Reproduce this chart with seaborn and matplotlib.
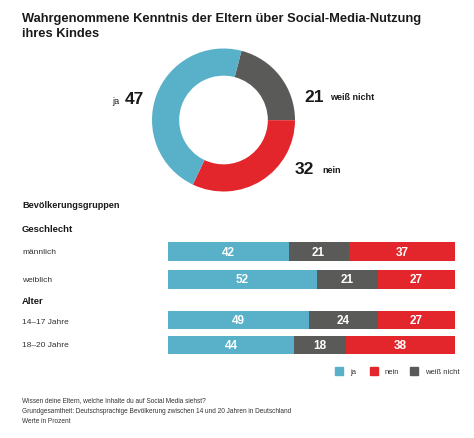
import pandas as pd
import numpy as np
import matplotlib
matplotlib.use("Agg")
import matplotlib.pyplot as plt
import seaborn as sns

sns.set_style("white")
plt.rcParams['font.family'] = ['Liberation Sans', 'DejaVu Sans']

# Data
answers = ['ja', 'weiß nicht', 'nein']
total_values = [47, 21, 32]

gender_groups = ['männlich', 'weiblich']
gender_ja = [42, 52]
gender_weiss = [21, 21]
gender_nein = [37, 27]

age_groups = ['14–17 Jahre', '18–20 Jahre']
age_ja = [49, 44]
age_weiss = [24, 18]
age_nein = [27, 38]

title = 'Wahrgenommene Kenntnis der Eltern über Social-Media-Nutzung\nihres Kindes'
footnotes = ['Wissen deine Eltern, welche Inhalte du auf Social Media siehst?',
             'Grundgesamtheit: Deutschsprachige Bevölkerung zwischen 14 und 20 Jahren in Deutschland',
             'Werte in Prozent']

colors = {'ja': '#58b0c9', 'weiß nicht': '#5a5a58', 'nein': '#e3262b'}
text_color = '#1a1a1a'

W, H = 474, 439
fig = plt.figure(figsize=(W / 100, H / 100), dpi=100)


def fx(x):
    return x / W


def fy(y):
    return 1 - y / H


def add_ax(left, top, right, bottom):
    return fig.add_axes([fx(left), fy(bottom), fx(right) - fx(left), (bottom - top) / H])


# Title
fig.text(fx(22), fy(13), title, fontsize=9.3, fontweight='bold', va='top', ha='left',
         color=text_color, linespacing=1.3)

# Donut
cx, cy, r = 223.5, 121, 71.5
ax_pie = add_ax(cx - r, cy - r, cx + r, cy + r)
pie_order = ['weiß nicht', 'nein', 'ja']
pie_vals = [total_values[answers.index(a)] for a in pie_order]
ax_pie.pie(pie_vals, colors=[colors[a] for a in pie_order], startangle=75.4,
           counterclock=False, radius=1, wedgeprops=dict(width=0.38, linewidth=0))
ax_pie.set_xlim(-1, 1)
ax_pie.set_ylim(-1, 1)
ax_pie.set_axis_off()

fig.text(fx(144), fy(100), str(total_values[0]), fontsize=12.5, fontweight='bold',
         ha='right', va='center', color=text_color)
fig.text(fx(112), fy(101), 'ja', fontsize=6.5, ha='left', va='center', color=text_color)
fig.text(fx(304), fy(97), str(total_values[1]), fontsize=12.5, fontweight='bold',
         ha='left', va='center', color=text_color)
fig.text(fx(330), fy(98), 'weiß nicht', fontsize=6.5, fontweight='bold', ha='left',
         va='center', color=text_color)
fig.text(fx(295), fy(170), str(total_values[2]), fontsize=12.5, fontweight='bold',
         ha='left', va='center', color=text_color)
fig.text(fx(322), fy(171), 'nein', fontsize=6.5, fontweight='bold', ha='left',
         va='center', color=text_color)

# Headings
fig.text(fx(22), fy(206), 'Bevölkerungsgruppen', fontsize=6.6, fontweight='bold',
         ha='left', va='center', color=text_color)
fig.text(fx(22), fy(230), 'Geschlecht', fontsize=6.8, fontweight='bold',
         ha='left', va='center', color=text_color)
fig.text(fx(22), fy(302), 'Alter', fontsize=6.8, fontweight='bold',
         ha='left', va='center', color=text_color)


def stacked_bars(ax, groups, ja, weiss, nein, bar_h):
    df = pd.DataFrame({'group': groups, 'ja': ja, 'weiß nicht': weiss, 'nein': nein})
    df['c_ja'] = df['ja']
    df['c_weiss'] = df['ja'] + df['weiß nicht']
    df['c_nein'] = df['c_weiss'] + df['nein']
    for col, key in [('c_nein', 'nein'), ('c_weiss', 'weiß nicht'), ('c_ja', 'ja')]:
        sns.barplot(data=df, x=col, y='group', orient='h', color=colors[key],
                    width=bar_h, errorbar=None, ax=ax, saturation=1, linewidth=0)
    for i, row in df.iterrows():
        starts = [0, row['c_ja'], row['c_weiss']]
        for s, key in zip(starts, ['ja', 'weiß nicht', 'nein']):
            ax.text(s + row[key] / 2, i, str(row[key]), color='white', fontsize=8.5,
                    fontweight='bold', ha='center', va='center')
    ax.set_xlim(0, 100)
    ax.set_ylim(len(groups) - 0.5, -0.5)
    ax.set_axis_off()


bx0, bx1 = 168, 455
ax_g = add_ax(bx0, 238.75, bx1, 293.75)
stacked_bars(ax_g, gender_groups, gender_ja, gender_weiss, gender_nein, 19 / 27.5)
ax_a = add_ax(bx0, 308.5, bx1, 358.5)
stacked_bars(ax_a, age_groups, age_ja, age_weiss, age_nein, 18 / 25)

for label, y in zip(gender_groups + age_groups, [253, 280, 322, 346]):
    fig.text(fx(22), fy(y), label, fontsize=6, ha='left', va='center', color='#333333')

# Legend
for key, x in [('ja', 335), ('nein', 370), ('weiß nicht', 410)]:
    fig.patches.append(plt.Rectangle((fx(x), fy(376)), 8 / W, 8 / H, color=colors[key],
                                     transform=fig.transFigure, figure=fig))
    fig.text(fx(x + 15), fy(372), key, fontsize=5.5, ha='left', va='center', color='#333333')

# Footnotes
for i, line in enumerate(footnotes):
    fig.text(fx(22), fy(401 + i * 10.2), line, fontsize=4.7, ha='left', va='center',
             color='#333333')

fig.savefig('out.png', dpi=100)
